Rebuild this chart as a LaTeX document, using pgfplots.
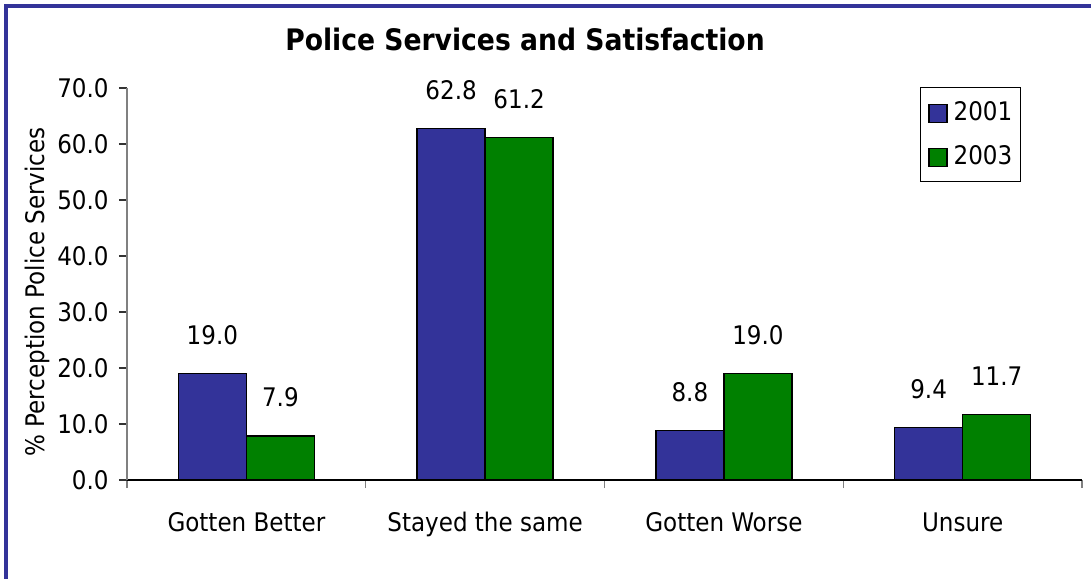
\documentclass[border=0pt]{standalone}
\usepackage{fontspec}
\setmainfont{DejaVu Sans Condensed}
\usepackage{pgfplots}
\pgfplotsset{compat=1.18}
\definecolor{barblue}{RGB}{51,51,153}
\definecolor{bargreen}{RGB}{0,128,0}
\definecolor{framecol}{RGB}{51,51,153}
\pgfplotsset{sqlegend/.style={legend image code/.code={\draw[##1, draw=black] (0pt,-5pt) rectangle (9pt,4pt);}}}
\begin{document}
\begin{tikzpicture}
\path[use as bounding box] (0,0) rectangle (545.5pt,289pt);
\draw[framecol, line width=2pt] (3pt,-2pt) -- (3pt,285.75pt) -- (548pt,285.75pt);
\begin{axis}[
  at={(63.5pt,49pt)}, anchor=south west,
  scale only axis, width=477.5pt, height=196pt,
  xmin=-0.5, xmax=3.5, ymin=0, ymax=70,
  ybar=0pt, bar width=34pt,
  axis x line*=bottom, axis y line*=left,
  x axis line style={-, black, line width=0.6pt},
  y axis line style={-, gray, line width=0.6pt},
  tick align=outside,
  xtick={0,1,2,3},
  xticklabels={Gotten Better, Stayed the same, Gotten Worse, Unsure},
  major x tick style={draw=none},
  minor xtick={-0.5,0.5,1.5,2.5,3.5},
  minor x tick style={gray, line width=0.6pt},
  minor tick length=4pt,
  ytick={0,10,...,70},
  major tick length=4pt,
  y tick style={black!80, line width=0.6pt},
  /pgf/number format/.cd, fixed, fixed zerofill, precision=1, assume math mode=true, /pgfplots/.cd,
  tick label style={font=\fontsize{12.8pt}{14pt}\selectfont},
  xticklabel style={anchor=north, inner sep=0pt, yshift=-12pt},
  yticklabel style={anchor=east, inner sep=0pt, xshift=-5pt},
  ylabel={\% Perception Police Services},
  every axis y label/.style={at={([xshift=-45pt]rel axis cs:0,0.48)}, rotate=90, anchor=center, font=\fontsize{12.8pt}{14pt}\selectfont},
  title={\textbf{Police Services and Satisfaction}},
  title style={at={(rel axis cs:0.4168,1.092)}, anchor=center, yshift=0pt, font=\fontsize{14.8pt}{17pt}\selectfont},
  nodes near coords={\pgfmathprintnumber{\pgfplotspointmeta}},
  every node near coord/.append style={font=\fontsize{12.8pt}{14pt}\selectfont, inner sep=0pt, yshift=14pt, black},
  legend style={at={(rel axis cs:0.936,1.0026)}, anchor=north east, draw=black, line width=0.6pt,
    font=\fontsize{12.8pt}{14pt}\selectfont, inner xsep=4pt, inner ysep=7pt, row sep=11pt, column sep=3pt,
    nodes={inner sep=0pt}},
  legend cell align=left,
  clip=false,
]
\addplot[fill=barblue, draw=black, line width=0.75pt, sqlegend]
  coordinates {(0,19.0) (1,62.8) (2,8.8) (3,9.4)};
\addlegendentry{2001}
\addplot[fill=bargreen, draw=black, line width=0.75pt, sqlegend]
  coordinates {(0,7.9) (1,61.2) (2,19.0) (3,11.7)};
\addlegendentry{2003}
\end{axis}
\end{tikzpicture}
\end{document}
